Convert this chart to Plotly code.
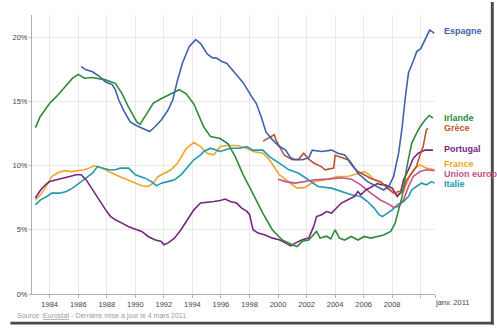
import plotly.graph_objects as go

# ---------------- data ----------------
irl_x = [1983.0, 1983.33, 1984.0, 1984.5, 1985.05, 1985.6, 1986.0, 1986.43, 1987.0, 1987.5, 1987.9, 1988.6, 1989.07,
         1989.5, 1990.1, 1990.33, 1990.68, 1991.25, 1991.8, 1992.4, 1993.08, 1993.55, 1994.1, 1994.8, 1995.27, 1995.95,
         1996.5, 1997.0, 1997.55, 1998.25, 1998.93, 1999.6, 2000.3, 2001.0, 2001.34, 2001.7, 2002.15, 2002.7, 2002.95,
         2003.4, 2003.7, 2004.0, 2004.3, 2004.67, 2005.13, 2005.6, 2006.04, 2006.5, 2006.97, 2007.4, 2007.9, 2008.2,
         2008.45, 2008.7, 2009.03, 2009.37, 2009.7, 2009.95, 2010.3, 2010.6, 2010.85]
irl_y = [12.95, 13.8, 14.85, 15.4, 16.1, 16.8, 17.1, 16.8, 16.85, 16.75, 16.67, 16.4, 15.6,
         14.6, 13.4, 13.2, 13.8, 14.85, 15.2, 15.5, 15.9, 15.6, 14.8, 13.0, 12.25, 12.1,
         11.7, 10.7, 9.3, 7.8, 6.3, 5.0, 4.2, 3.83, 3.7, 4.1, 4.2, 4.87, 4.35,
         4.5, 4.3, 5.0, 4.35, 4.2, 4.48, 4.2, 4.48, 4.35, 4.48, 4.6, 4.87, 5.5,
         6.55, 7.6, 9.9, 11.75, 12.5, 13.0, 13.55, 13.9, 13.7]

esp_x = [1986.2, 1986.55, 1987.0, 1987.46, 1987.92, 1988.38, 1988.6, 1988.84, 1989.18, 1989.64, 1990.1, 1990.56,
         1991.0, 1991.36, 1991.82, 1992.28, 1992.62, 1992.97, 1993.3, 1993.77, 1994.23, 1994.58, 1995.03, 1995.38,
         1995.72, 1996.06, 1996.4, 1997.1, 1997.56, 1998.13, 1998.47, 1998.82, 1999.16, 1999.62, 2000.08, 2000.54,
         2000.88, 2001.2, 2001.7, 2002.15, 2002.4, 2003.06, 2003.75, 2004.2, 2004.67, 2005.13, 2005.6, 2006.27,
         2006.96, 2007.4, 2007.76, 2008.1, 2008.45, 2008.7, 2008.9, 2009.14, 2009.5, 2009.72, 2010.0, 2010.3,
         2010.63, 2010.82, 2010.95]
esp_y = [17.7, 17.45, 17.3, 16.97, 16.5, 16.3, 15.9, 15.1, 14.3, 13.4, 13.1, 12.9,
         12.65, 13.0, 13.55, 14.3, 15.1, 16.7, 17.96, 19.25, 19.8, 19.5, 18.7, 18.4,
         18.35, 18.1, 17.96, 17.05, 16.45, 15.4, 14.85, 13.8, 12.6, 12.0, 11.5, 11.2,
         10.6, 10.45, 10.45, 10.6, 11.2, 11.1, 11.2, 10.96, 10.83, 10.2, 9.4, 8.75,
         8.37, 8.1, 8.37, 9.15, 10.96, 13.0, 15.1, 17.2, 18.2, 18.87, 19.1, 19.8,
         20.55, 20.4, 20.3]

grc_x = [1998.95, 1999.16, 1999.5, 1999.74, 1999.85, 2000.1, 2000.44, 2001.0, 2001.45, 2001.8, 2002.15, 2002.5,
         2003.06, 2003.3, 2003.75, 2003.9, 2004.0, 2004.44, 2004.9, 2005.24, 2005.6, 2006.04, 2006.5, 2007.2,
         2007.65, 2008.1, 2008.45, 2008.7, 2009.03, 2009.37, 2009.7, 2009.95, 2010.17, 2010.3, 2010.4, 2010.52]
grc_y = [11.9, 12.05, 12.25, 12.4, 12.0, 11.5, 10.8, 10.45, 10.5, 10.96, 10.5, 10.2,
         9.9, 9.67, 9.8, 9.8, 10.8, 10.6, 10.45, 9.92, 9.53, 9.28, 9.0, 8.75,
         8.24, 7.85, 7.98, 7.98, 8.9, 9.4, 9.92, 10.83, 11.48, 12.25, 12.8, 12.9]

prt_x = [1983.0, 1983.36, 1983.7, 1984.0, 1984.48, 1984.94, 1985.4, 1985.86, 1986.2, 1986.55, 1987.0, 1987.46,
         1987.92, 1988.27, 1988.6, 1989.07, 1989.5, 1990.0, 1990.45, 1990.9, 1991.36, 1991.82, 1992.0, 1992.28,
         1992.74, 1993.2, 1993.66, 1994.1, 1994.57, 1995.03, 1995.5, 1995.95, 1996.3, 1996.65, 1997.1, 1997.45,
         1997.8, 1998.0, 1998.25, 1998.6, 1999.05, 1999.62, 2000.08, 2000.54, 2000.88, 2001.2, 2001.7, 2002.15,
         2002.5, 2002.7, 2003.06, 2003.4, 2003.75, 2004.1, 2004.44, 2004.9, 2005.36, 2005.6, 2005.8, 2006.16,
         2006.5, 2006.96, 2007.2, 2007.53, 2008.0, 2008.35, 2008.57, 2008.8, 2009.14, 2009.48, 2009.83, 2010.3,
         2010.86]
prt_y = [7.47, 8.1, 8.5, 8.75, 8.9, 9.0, 9.15, 9.28, 9.28, 8.9, 8.1, 7.33,
         6.55, 6.03, 5.78, 5.52, 5.26, 5.05, 4.87, 4.48, 4.22, 4.09, 3.83, 3.96,
         4.35, 5.0, 5.78, 6.55, 7.08, 7.12, 7.2, 7.28, 7.39, 7.2, 7.08, 6.69,
         6.45, 6.2, 5.0, 4.74, 4.61, 4.35, 4.22, 3.96, 3.75, 3.96, 4.22, 4.35,
         5.26, 6.03, 6.17, 6.42, 6.3, 6.69, 7.08, 7.33, 7.59, 7.98, 7.72, 8.1,
         8.3, 8.6, 8.5, 8.5, 8.24, 7.6, 7.85, 8.9, 9.67, 10.57, 10.96, 11.2,
         11.2]

fra_x = [1983.0, 1983.36, 1983.8, 1984.14, 1984.6, 1985.05, 1985.5, 1986.0, 1986.43, 1986.77, 1987.12, 1987.35,
         1987.92, 1988.6, 1989.3, 1990.0, 1990.45, 1990.9, 1991.25, 1991.6, 1992.05, 1992.5, 1992.97, 1993.3,
         1993.55, 1994.1, 1994.58, 1995.03, 1995.5, 1995.95, 1996.4, 1997.1, 1997.8, 1998.25, 1998.94, 1999.4,
         2000.08, 2000.77, 2001.34, 2001.9, 2002.5, 2003.3, 2004.2, 2004.9, 2005.6, 2006.05, 2006.4, 2006.73,
         2007.2, 2007.65, 2008.0, 2008.35, 2008.8, 2009.03, 2009.26, 2009.6, 2009.95, 2010.4, 2010.97]
fra_y = [7.33, 7.72, 8.5, 9.15, 9.46, 9.6, 9.53, 9.6, 9.67, 9.8, 9.98, 9.92,
         9.67, 9.28, 8.94, 8.63, 8.42, 8.37, 8.63, 9.15, 9.4, 9.67, 10.19, 10.83,
         11.3, 11.79, 11.48, 10.96, 10.83, 11.48, 11.56, 11.56, 11.35, 11.1, 10.96, 10.45,
         9.3, 8.7, 8.24, 8.3, 8.75, 8.89, 9.15, 9.15, 9.4, 9.53, 9.28, 8.89,
         8.63, 8.37, 7.98, 7.72, 7.98, 8.63, 9.28, 9.8, 10.05, 9.8, 9.67]

eu_x = [2000.0, 2000.54, 2001.2, 2001.9, 2002.6, 2003.5, 2004.44, 2005.13, 2005.8, 2006.5, 2007.2, 2007.76,
        2008.1, 2008.45, 2008.8, 2009.14, 2009.48, 2009.95, 2010.4, 2010.97]
eu_y = [8.94, 8.75, 8.63, 8.75, 8.89, 8.94, 9.05, 8.94, 8.5, 7.85, 7.3, 7.0,
        6.75, 6.81, 7.33, 8.37, 9.15, 9.53, 9.67, 9.6]

ita_x = [1983.0, 1983.36, 1983.8, 1984.14, 1984.7, 1985.17, 1985.6, 1986.08, 1986.55, 1987.0, 1987.35, 1987.7,
         1988.15, 1988.6, 1988.95, 1989.53, 1990.0, 1990.68, 1991.14, 1991.48, 1991.82, 1992.28, 1992.74, 1993.2,
         1993.66, 1994.1, 1994.58, 1994.8, 1995.27, 1995.95, 1996.65, 1997.33, 1997.8, 1998.25, 1998.94, 1999.4,
         2000.08, 2000.77, 2001.45, 2002.15, 2002.8, 2003.75, 2004.44, 2005.13, 2005.8, 2006.27, 2006.73, 2007.08,
         2007.31, 2007.65, 2008.0, 2008.35, 2008.8, 2009.14, 2009.37, 2009.7, 2010.05, 2010.4, 2010.75, 2010.97]
ita_y = [6.94, 7.33, 7.59, 7.85, 7.85, 7.98, 8.24, 8.63, 9.02, 9.4, 9.92, 9.8,
         9.67, 9.67, 9.8, 9.8, 9.28, 9.02, 8.75, 8.42, 8.63, 8.75, 8.89, 9.28,
         9.92, 10.45, 10.83, 11.1, 11.35, 11.1, 11.35, 11.35, 11.48, 11.2, 11.2, 10.7,
         10.19, 9.67, 9.4, 8.89, 8.37, 8.24, 7.98, 7.72, 7.59, 7.2, 6.69, 6.17,
         6.03, 6.3, 6.55, 6.94, 7.2, 7.59, 8.1, 8.37, 8.63, 8.5, 8.75, 8.63]

series_names = ["Espagne", "Irlande", "Grèce", "Portugal", "France", "Union européenne", "Italie"]
# end-of-line labels as they appear in the picture (the last one is cut by the frame)
labels = ["Espagne", "Irlande", "Grèce", "Portugal", "France", "Union europ", "Italie"]
label_pos = [20.47, 13.71, 12.9, 11.3, 10.1, 9.36, 8.54]
year_ticks = [1984, 1986, 1988, 1990, 1992, 1994, 1996, 1998, 2000, 2002, 2004, 2006, 2008, 2010, 2011]
year_text = ["1984", "1986", "1988", "1990", "1992", "1994", "1996", "1998", "2000", "2002", "2004", "2006",
             "2008", "", ""]
pct_ticks = [0, 5, 10, 15, 20]
pct_text = ["0%", "5%", "10%", "15%", "20%"]

# ---------------- styles ----------------
color_list = ["#3f62a8", "#2e8b3a", "#b9552f", "#76267f", "#eea52a", "#c5508a", "#2299b0"]
colors = dict(zip(series_names, color_list))
series = [
    ("France", fra_x, fra_y),
    ("Italie", ita_x, ita_y),
    ("Union européenne", eu_x, eu_y),
    ("Portugal", prt_x, prt_y),
    ("Grèce", grc_x, grc_y),
    ("Irlande", irl_x, irl_y),
    ("Espagne", esp_x, esp_y),
]

W, H = 497, 329
L, R, T, B = 25, 62, 15, 35
pw, ph = W - L - R, H - T - B


def px_x(p):
    return (p - L) / pw


def px_y(p):
    return (H - B - p) / ph


fig = go.Figure()
for name, xs, ys in series:
    fig.add_trace(go.Scatter(x=xs, y=ys, mode="lines", name=name,
                             line=dict(color=colors[name], width=1.6),
                             hoverinfo="skip", showlegend=False))

font = "Arial, Liberation Sans, sans-serif"
ann = []
for name, lab, yv in zip(series_names, labels, label_pos):
    ann.append(dict(x=px_x(442), xref="paper", y=yv, yref="y", text="<b>" + lab + "</b>",
                    showarrow=False, xanchor="left", yanchor="middle",
                    font=dict(family=font, size=9, color=colors[name])))
ann.append(dict(x=2011, xref="x", y=px_y(302), yref="paper", text="janv. 2011", showarrow=False,
                xanchor="left", yanchor="middle", xshift=-2,
                font=dict(family=font, size=7.5, color="#444")))
ann.append(dict(x=px_x(8), xref="paper", y=px_y(315.5), yref="paper",
                text='Source :<span style="text-decoration:underline">Eurostat</span>'
                     ' - Dernière mise à jour le 4 mars 2011',
                showarrow=False, xanchor="left", yanchor="middle",
                font=dict(family=font, size=7, color="#9a9a9a")))

shapes = [
    dict(type="rect", xref="paper", yref="paper", x0=px_x(491.8), x1=px_x(494.8), y0=px_y(324.5), y1=px_y(2),
         fillcolor="#4a4a4a", line=dict(width=0), layer="above"),
    dict(type="rect", xref="paper", yref="paper", x0=px_x(3), x1=px_x(494.8), y0=px_y(324.5), y1=px_y(321.8),
         fillcolor="#4a4a4a", line=dict(width=0), layer="above"),
]

fig.update_layout(
    width=W, height=H,
    margin=dict(l=L, r=R, t=T, b=B, pad=0),
    paper_bgcolor="white", plot_bgcolor="white",
    font=dict(family=font, size=7.5, color="#444"),
    xaxis=dict(range=[1982.76, 2011.0], tickmode="array", tickvals=year_ticks, ticktext=year_text,
               showgrid=True, gridcolor="#e9e9e9", gridwidth=1,
               showline=True, linecolor="#b0b0b0", linewidth=1,
               ticks="outside", ticklen=3, tickcolor="#b0b0b0",
               tickfont=dict(family=font, size=7.5, color="#444"), zeroline=False, fixedrange=True),
    yaxis=dict(range=[0, 21.72], tickmode="array", tickvals=pct_ticks, ticktext=pct_text,
               showgrid=True, gridcolor="#e9e9e9", gridwidth=1,
               showline=True, linecolor="#b0b0b0", linewidth=1,
               ticks="outside", ticklen=2, tickcolor="#b0b0b0",
               tickfont=dict(family=font, size=7.5, color="#444"), zeroline=False, fixedrange=True),
    annotations=ann,
    shapes=shapes,
)

fig.write_html("out.html")
